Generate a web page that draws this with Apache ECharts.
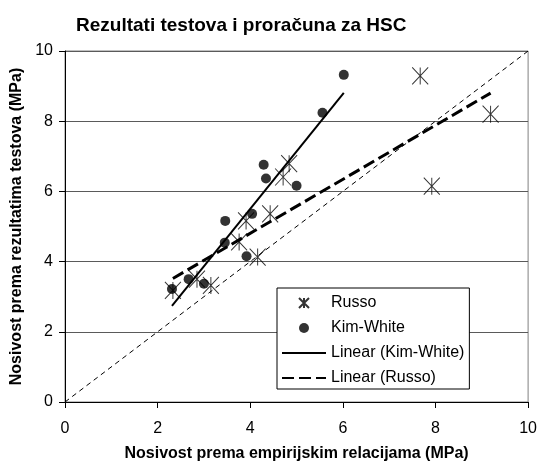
<!DOCTYPE html>
<html>
<head>
<meta charset="utf-8">
<script src="https://cdn.jsdelivr.net/npm/echarts@6/dist/echarts.min.js"></script>
<style>
  html, body { margin: 0; padding: 0; background: #fff; }
  #chart { width: 540px; height: 467px; }
</style>
</head>
<body>
<div id="chart"></div>
<script>
const fontFamily = "'Liberation Sans', Arial, sans-serif";

const russoPoints = [
  [2.33, 3.18], [2.85, 3.5], [3.15, 3.32], [3.76, 4.56], [3.91, 5.16],
  [4.16, 4.13], [4.43, 5.36], [4.71, 6.41], [4.84, 6.79], [7.67, 9.29],
  [7.92, 6.15], [9.19, 8.2],
];
const kimWhitePoints = [
  [2.31, 3.22], [2.67, 3.5], [3.0, 3.37], [3.45, 4.54], [3.46, 5.16],
  [3.92, 4.15], [4.04, 5.36], [4.29, 6.76], [4.34, 6.37], [5.0, 6.16],
  [5.56, 8.24], [6.02, 9.32],
];
// trend line end points as drawn
const kimWhiteTrend = [[2.31, 2.74], [6.02, 8.81]];
const russoTrend = [[2.33, 3.52], [9.19, 8.8]];
// 1:1 reference line
const equalityLine = [[0, 0], [10, 10]];

const legendNames = ["Russo", "Kim-White", "Linear (Kim-White)", "Linear (Russo)"];

const asterisk = "path://M0,0L10,10M10,0L0,10M5,0L5,10";

const chart = echarts.init(document.querySelector("#chart"));
window.addEventListener("resize", () => chart.resize());

const axisCommon = {
  type: "value",
  min: 0,
  max: 10,
  interval: 2,
  nameLocation: "middle",
  nameTextStyle: { fontFamily, fontSize: 16, fontWeight: "bold", color: "#000" },
  axisLine: { show: true, lineStyle: { color: "#000", width: 1 } },
  axisTick: { show: true, inside: false, length: 6, lineStyle: { color: "#000" } },
  axisLabel: { fontFamily, fontSize: 16, color: "#000" },
};

// line series should show only their stroke in the legend
const noMarker = { color: "transparent", borderColor: "transparent", borderWidth: 0 };

chart.setOption({
  animation: false,
  backgroundColor: "#fff",
  title: {
    text: "Rezultati testova i proračuna za HSC",
    left: 71,
    top: 11,
    textStyle: { fontFamily, fontSize: 19, fontWeight: "bold", color: "#000" },
  },
  grid: {
    left: 65,
    right: 11,
    top: 51,
    bottom: 60,
    show: true,
    borderColor: "#808080",
    borderWidth: 1,
  },
  xAxis: {
    ...axisCommon,
    name: "Nosivost prema empirijskim relacijama (MPa)",
    nameGap: 44,
    splitLine: { show: false },
    axisLabel: { ...axisCommon.axisLabel, margin: 19 },
  },
  yAxis: {
    ...axisCommon,
    name: "Nosivost prema rezultatima testova (MPa)",
    nameGap: 31,
    nameRotate: 90,
    splitLine: { show: true, lineStyle: { color: "#5a5a5a", width: 1 } },
    axisLabel: { ...axisCommon.axisLabel, margin: 12 },
  },
  legend: {
    data: legendNames,
    orient: "vertical",
    left: 277,
    top: 288,
    padding: [7, 5, 3, 4],
    itemGap: 9,
    itemWidth: 44,
    itemHeight: 10,
    backgroundColor: "#fff",
    borderColor: "#000",
    borderWidth: 1,
    borderRadius: 0,
    textStyle: { fontFamily, fontSize: 16, lineHeight: 16, color: "#000" },
  },
  series: [
    {
      type: "line",
      name: "equality",
      data: equalityLine,
      symbol: "none",
      silent: true,
      z: 1,
      itemStyle: noMarker,
      lineStyle: { color: "#000", width: 1, type: [5, 4] },
    },
    {
      type: "line",
      name: "Linear (Kim-White)",
      data: kimWhiteTrend,
      symbol: "none",
      z: 2,
      itemStyle: noMarker,
      lineStyle: { color: "#000", width: 2, type: "solid" },
    },
    {
      type: "line",
      name: "Linear (Russo)",
      data: russoTrend,
      symbol: "none",
      z: 2,
      itemStyle: noMarker,
      lineStyle: { color: "#000", width: 3, type: [12, 5] },
    },
    {
      type: "scatter",
      name: "Russo",
      data: russoPoints,
      symbol: asterisk,
      symbolSize: [16, 17],
      z: 3,
      itemStyle: { color: "none", borderColor: "#000", borderWidth: 1 },
    },
    {
      type: "scatter",
      name: "Kim-White",
      data: kimWhitePoints,
      symbol: "circle",
      symbolSize: 10,
      z: 4,
      itemStyle: { color: "#000" },
    },
  ],
});
</script>
</body>
</html>
